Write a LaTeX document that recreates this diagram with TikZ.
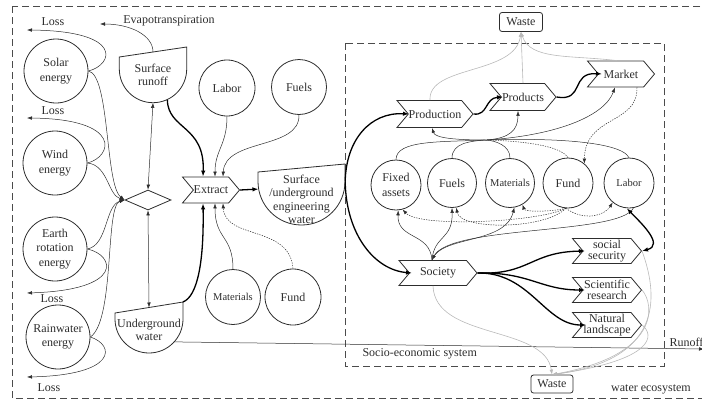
\documentclass[tikz,border=0pt]{standalone}
\usepackage{fontspec}
\setmainfont{Liberation Serif}
\usetikzlibrary{arrows.meta,shapes.geometric,shapes.symbols,calc}

\definecolor{ink}{RGB}{45,45,45}
\definecolor{spoil}{RGB}{185,185,185}
\definecolor{frame}{RGB}{75,75,75}

\tikzset{
  txt/.style={font=\fontsize{12}{14.5}\selectfont, text=ink, align=center},
  smalltxt/.style={font=\fontsize{10.5}{12}\selectfont},
  pool/.style={circle, draw=ink, line width=0.8pt, inner sep=0pt, txt},
  stage/.style={signal, signal from=west, signal to=east, signal pointer angle=100,
    draw=ink, line width=0.8pt, inner sep=0pt, minimum height=26pt, txt},
  twoline/.style={font=\fontsize{12}{10.5}\selectfont, minimum height=25pt},
  bin/.style={draw=ink, rounded corners=2.5pt, line width=0.8pt, inner sep=0pt, txt},
  link/.style={draw=ink, line width=0.5pt},
  flow/.style={link, -{Latex[length=5pt,width=3.6pt]}},
  both/.style={link, {Latex[length=5pt,width=3.6pt]}-{Latex[length=5pt,width=3.6pt]}},
  dotted link/.style={link, dash pattern=on 1.3pt off 1.2pt},
  dotflow/.style={flow, dash pattern=on 1.3pt off 1.2pt},
  heavy/.style={draw=black, line width=1.3pt, -{Latex[length=6pt,width=4.5pt]}},
  heavyboth/.style={draw=black, line width=1.3pt, {Latex[length=6pt,width=4.5pt]}-{Latex[length=6pt,width=4.5pt]}},
  wasteflow/.style={draw=spoil, line width=0.6pt, -{Latex[length=5pt,width=3.6pt]}},
  boundary/.style={draw=frame, line width=0.8pt, dash pattern=on 7pt off 4pt},
}

% bowl shaped store: name, cx, cy, radius, left rim y, right rim y, label shift, label
\newcommand{\drawbowl}[8]{
  \draw[ink, line width=0.8pt] (#2-#4,#5) -- (#2+#4,#6) -- (#2+#4,#3)
    arc[start angle=0, end angle=180, radius=#4] -- cycle;
  \pgfmathsetmacro\bowlsize{2*#4}
  \node[circle, inner sep=0pt, minimum size=\bowlsize pt] (#1) at (#2,#3) {};
  \coordinate (#1-top) at (#2,{(#5+#6)/2});
  \coordinate (#1-right) at (#2+#4,#6);
  \node[txt, font=\fontsize{12}{13.5}\selectfont] (#1-label) at (#2,#3+#7) {#8};
}

\begin{document}
\begin{tikzpicture}[x=1pt, y=-1pt]
\path[use as bounding box] (0,0) rectangle (702,402);
\clip (0,0) rectangle (702,402);

\draw[boundary] (12,6) rectangle (712,398);
\draw[boundary] (345,43) rectangle (664,366);

\foreach \nm/\px/\py/\txt in {solar/56/71/{Solar\\energy}, wind/55/163/{Wind\\energy},
    earth/55/249/{Earth\\rotation\\energy}, rain/58/337/{Rainwater\\energy}}
  \node[pool, minimum size=64pt] (\nm) at (\px,\py) {\txt};

\node[diamond, draw=ink, line width=0.8pt, minimum width=46pt, minimum height=20pt, inner sep=0pt] (hub) at (148,200) {};

\drawbowl{srun}{153}{69}{33.7}{57}{47}{6}{Surface\\runoff}
\drawbowl{gwater}{149}{319}{34}{313}{302}{11}{Underground\\water}
\drawbowl{ewater}{301.5}{181.5}{43.5}{172}{164}{18}{Surface\\/underground\\engineering\\water}

\node[pool, minimum size=56pt] (labor1) at (227,88) {Labor};
\node[pool, minimum size=55pt] (fuels1) at (299,87) {Fuels};
\node[pool, minimum size=55pt, smalltxt] (mat1) at (233,297) {Materials};
\node[pool, minimum size=56pt] (fund1) at (293,297) {Fund};

\node[stage, minimum width=57pt] (extract) at (211,190) {Extract};
\node[stage, minimum width=76pt, minimum height=27pt] (production) at (435,114) {Production};
\node[stage, minimum width=66pt, minimum height=27pt] (products) at (523,97) {Products};
\node[stage, minimum width=67pt] (market) at (621,74) {Market};
\node[stage, minimum width=78pt, minimum height=25pt] (society) at (438,273) {Society};
\node[stage, twoline, minimum width=69pt] (security) at (607,251) {social\\security};
\node[stage, twoline, minimum width=69pt] (research) at (607,290) {Scientific\\research};
\node[stage, twoline, minimum width=69pt] (landscape) at (607,325) {Natural\\landscape};

\node[pool, minimum size=50pt] (assets) at (396,185) {Fixed\\assets};
\node[pool, minimum size=49pt] (fuels2) at (452,183) {Fuels};
\node[pool, minimum size=49pt, smalltxt] (mat2) at (510,183) {Materials};
\node[pool, minimum size=50pt] (fund2) at (568,183) {Fund};
\node[pool, minimum size=50pt, smalltxt] (labor2) at (629,183) {Labor};

\node[bin, minimum width=43pt, minimum height=19pt] (waste1) at (521,22) {Waste};
\node[bin, minimum width=42pt, minimum height=18pt] (waste2) at (552,384) {Waste};

\node[txt] (loss1-label) at (53,22) {Loss};
\node[txt] (loss2-label) at (53,111) {Loss};
\node[txt] (loss3-label) at (52,299) {Loss};
\node[txt] (loss4-label) at (49,388) {Loss};
\node[txt] (evap-label) at (169,21) {Evapotranspiration};
\node[txt, anchor=west] (runoff-label) at (666,342) {Runoff};
\node[txt, anchor=west] (socio-label) at (359,354) {Socio-economic system};
\node[txt] (eco-label) at (651,389) {water ecosystem};

\coordinate (loss1) at (27,30);
\coordinate (loss2) at (27,118);
\coordinate (loss3) at (27,293);
\coordinate (loss4) at (27,377);
\coordinate (evap) at (100,24);
\coordinate (runoff) at (704,349);
\coordinate (mix) at (487,140);

% energy losses and inputs to the hub
\draw[flow] (solar.east) .. controls (113,65) and (125,31) .. (loss1);
\draw[flow] (wind.east) .. controls (112,157) and (124,119) .. (loss2);
\draw[flow] (earth.east) .. controls (115,255) and (125,290) .. (loss3);
\draw[flow] (rain.east) .. controls (115,345) and (118,375) .. (loss4);
\draw[flow] (solar.east) .. controls (110,75) and (105,185) .. (hub.west);
\draw[flow] (wind.east) .. controls (108,165) and (108,195) .. (hub.west);
\draw[flow] (earth.east) .. controls (108,245) and (105,205) .. (hub.west);
\draw[flow] (rain.east) .. controls (115,320) and (105,205) .. (hub.west);

\draw[both] (srun.south) -- (hub.north);
\draw[both] (hub.south) -- (gwater-top);
\draw[flow] (srun-top) .. controls (153,35) and (130,24) .. (evap);
\draw[flow] (gwater.-42) -- (runoff);

% extraction
\draw[heavy] (srun.-65) .. controls (168,130) and (205,125) .. ($(extract.north)+(-8,0)$);
\draw[flow] (labor1.south) .. controls (227,145) and (215,150) .. ($(extract.north)+(4,0)$);
\draw[flow] (fuels1.south) .. controls (300,150) and (225,138) .. ($(extract.north)+(12,0)$);
\draw[heavy] (gwater-right) .. controls (198,296) and (204,260) .. ($(extract.south)+(-8,0)$);
\draw[flow] (mat1.north) .. controls (233,235) and (215,240) .. ($(extract.south)+(4,0)$);
\draw[dotflow] (fund1.north) .. controls (290,225) and (225,240) .. ($(extract.south)+(12,0)$);
\draw[heavy] (extract.east) -- (ewater.190);

% socio-economic chain
\draw[heavy] (ewater.east) .. controls (346,140) and (370,112) .. ($(production.center)+(-26,0)$);
\draw[heavy] (ewater.east) .. controls (346,235) and (375,270) .. ($(society.center)+(-26,0)$);
\draw[heavy] (production.east) .. controls (488,116) and (485,98) .. ($(products.center)+(-20,0)$);
\draw[heavy] (products.east) .. controls (585,102) and (570,72) .. ($(market.center)+(-19,0)$);

\draw[wasteflow] ($(production.north)+(-5,0)$) .. controls (428,65) and (515,75) .. (waste1.south);
\draw[wasteflow] (products.north) -- (waste1.south);
\draw[wasteflow] ($(market.north)+(-4,0)$) .. controls (570,55) and (530,60) .. (waste1.south);
\draw[wasteflow] ($(society.south)+(-5,0)$) .. controls (435,340) and (545,325) .. (waste2.north);
\draw[wasteflow] (security.east) .. controls (660,300) and (660,360) .. (waste2.north);
\draw[wasteflow] (research.east) .. controls (655,305) and (660,355) .. (waste2.north);
\draw[wasteflow] (landscape.east) .. controls (655,335) and (655,360) .. (waste2.north);

% production factors
\draw[link] (assets.north) .. controls (396,140) and (440,142) .. (mix);
\draw[link] (fuels2.north) .. controls (452,143) and (470,141) .. (mix);
\draw[link] (mat2.north) .. controls (510,145) and (495,141) .. (mix);
\draw[link] (labor2.north) .. controls (620,140) and (540,138) .. (mix);
\draw[dotted link] (fund2.north) .. controls (560,145) and (520,141) .. (mix);
\draw[flow] (mix) .. controls (455,140) and (435,138) .. ($(production.south)+(-3,0)$);
\draw[flow] (mix) .. controls (510,138) and (518,130) .. ($(products.south)+(-5,0)$);
\draw[flow] (mix) .. controls (560,135) and (605,115) .. ($(market.south)+(-6,0)$);
\draw[dotflow] ($(market.south)+(16,0)$) .. controls (638,125) and (585,115) .. (fund2.50);

% society and the factors
\draw[flow] ($(society.north)+(-6,0)$) .. controls (430,232) and (397,240) .. (assets.-85);
\draw[flow] ($(society.north)+(-6,0)$) .. controls (434,235) and (453,240) .. (fuels2.-90);
\draw[flow] ($(society.north)+(-6,0)$) .. controls (440,235) and (505,245) .. (mat2.-80);
\draw[flow] (labor2.-80) .. controls (620,235) and (450,225) .. ($(society.north)+(-6,0)$);
\draw[dotflow] (fund2.-95) .. controls (540,222) and (420,228) .. (assets.-75);
\draw[dotflow] (fund2.-95) .. controls (545,230) and (460,230) .. (fuels2.-80);
\draw[dotflow] (fund2.-95) .. controls (550,212) and (525,212) .. (mat2.-60);
\draw[dotflow] (fund2.-95) .. controls (585,222) and (605,215) .. (labor2.-130);
\draw[heavyboth] (labor2.-95) .. controls (640,222) and (665,245) .. (security.east);

\draw[heavy] (society.east) .. controls (530,275) and (530,252) .. ($(security.center)+(-22,0)$);
\draw[heavy] (society.east) .. controls (530,272) and (540,290) .. ($(research.center)+(-22,0)$);
\draw[heavy] (society.east) .. controls (530,272) and (545,325) .. ($(landscape.center)+(-21,0)$);
\end{tikzpicture}
\end{document}
